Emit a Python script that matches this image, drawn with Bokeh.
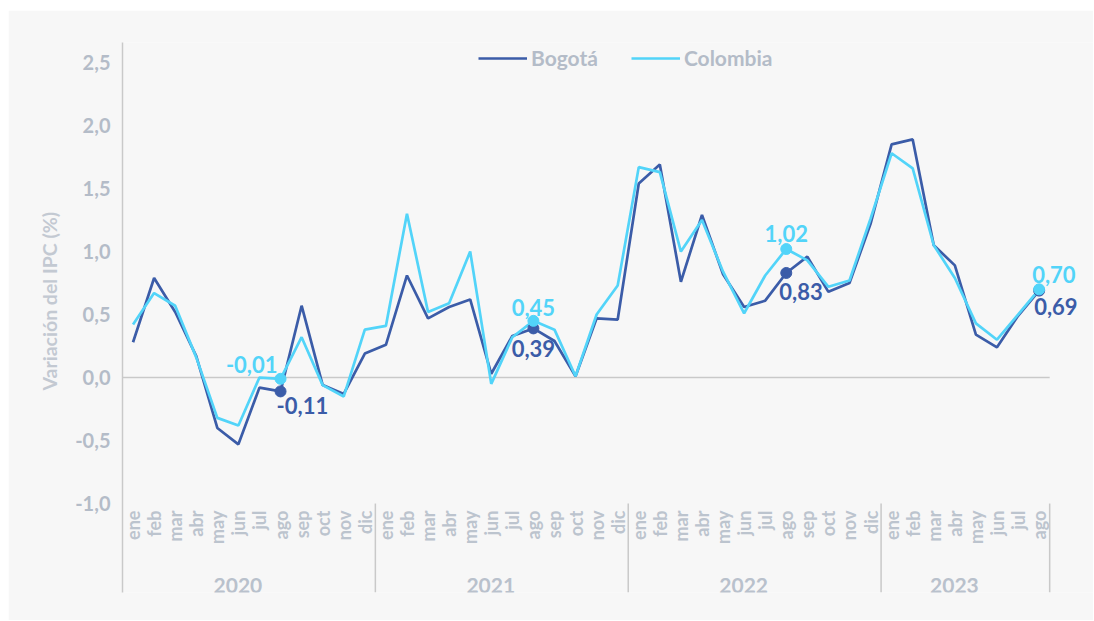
import numpy as np
from math import pi
from bokeh.plotting import figure
from bokeh.models import (ColumnDataSource, Range1d, FixedTicker, Legend,
                          LegendItem, Title)
from bokeh.core.properties import value
from bokeh.embed import file_html
from bokeh.resources import INLINE

# ---------------- data ----------------
years = ["2020", "2021", "2022", "2023"]
months_per_year = [12, 12, 12, 8]
month_names = ["ene", "feb", "mar", "abr", "may", "jun",
               "jul", "ago", "sep", "oct", "nov", "dic"]

bogota = [0.28, 0.79, 0.52, 0.17, -0.40, -0.53, -0.08, -0.11, 0.57, -0.06, -0.13, 0.19,
          0.26, 0.81, 0.47, 0.56, 0.62, 0.03, 0.33, 0.39, 0.29, 0.01, 0.47, 0.46,
          1.54, 1.69, 0.76, 1.29, 0.82, 0.56, 0.61, 0.83, 0.96, 0.68, 0.75, 1.22,
          1.85, 1.89, 1.05, 0.89, 0.34, 0.24, 0.49, 0.69]
colombia = [0.42, 0.67, 0.57, 0.16, -0.32, -0.38, 0.00, -0.01, 0.32, -0.06, -0.15, 0.38,
            0.41, 1.30, 0.52, 0.59, 1.00, -0.05, 0.32, 0.45, 0.38, 0.01, 0.50, 0.73,
            1.67, 1.63, 1.00, 1.25, 0.84, 0.51, 0.81, 1.02, 0.93, 0.72, 0.77, 1.26,
            1.78, 1.66, 1.05, 0.79, 0.43, 0.30, 0.50, 0.70]
y_ticks = [-1.0, -0.5, 0.0, 0.5, 1.0, 1.5, 2.0, 2.5]
highlight_idx = [7, 19, 31, 43]   # ago of each year

# ---------------- styles ----------------
FONT = "Lato"
C_BOG = "#3b5ca8"
C_COL = "#52d4f9"
C_TICK = "#b4bcc8"
C_TITLE = "#c3c9d2"
C_MONTH = "#bcc4ce"
C_YEAR = "#b9c1cc"
C_AXIS = "#c9c9c9"
BG = "#f7f7f7"

# ---------------- derived ----------------
n = len(bogota)
x = np.arange(n)
month_labels = []
for cnt in months_per_year:
    month_labels += month_names[:cnt]
starts = np.concatenate([[0], np.cumsum(months_per_year)[:-1]])
year_centers = [s + (c - 1) / 2 for s, c in zip(starts, months_per_year)]
separators = [s + c - 0.5 for s, c in zip(starts, months_per_year)]

Y_LO, Y_HI = -1.706, 2.659
p = figure(width=1085, height=610, output_backend="svg", toolbar_location=None,
           x_range=Range1d(-0.5, 45.58), y_range=Range1d(Y_LO, Y_HI),
           x_axis_location=None, min_border_left=114, min_border_right=0,
           min_border_top=32, min_border_bottom=28)
p.margin = (10, 0, 0, 8)
p.background_fill_color = BG
p.border_fill_color = BG
p.outline_line_color = None
p.xgrid.visible = False
p.ygrid.visible = False

ya = p.yaxis[0]
ya.ticker = FixedTicker(ticks=y_ticks)
ya.major_label_overrides = {t: f"{t:.1f}".replace(".", ",") for t in y_ticks}
ya.major_tick_line_color = None
ya.minor_tick_line_color = None
ya.major_tick_out = 0
ya.major_tick_in = 0
ya.axis_line_color = C_AXIS
ya.axis_line_width = 1.5
ya.major_label_standoff = 12
ya.major_label_text_font = FONT
ya.major_label_text_font_style = "bold"
ya.major_label_text_font_size = "20px"
ya.major_label_text_color = C_TICK

# y-axis title
p.add_layout(Title(text="Variación del IPC (%)", align="left", offset=202,
                   standoff=24, text_font=FONT, text_font_style="bold",
                   text_font_size="19.5px", text_color=C_TITLE), "left")

# zero line
p.segment(x0=[-0.5], x1=[separators[-1]], y0=[0], y1=[0],
          line_color=C_AXIS, line_width=1.5)

# category labels (months / years) and separators below the -1,0 level
p.text(x=x, y=[-1.056] * n, text=month_labels, angle=pi / 2,
       text_align="right", text_baseline="middle",
       text_font=value(FONT), text_font_style="bold",
       text_font_size="18px", text_color=C_MONTH)
p.text(x=year_centers, y=[-1.651] * len(years), text=years, x_offset=-11,
       text_align="center", text_baseline="middle",
       text_font=value(FONT), text_font_style="bold",
       text_font_size="21px", text_color=C_YEAR)
p.segment(x0=separators, x1=separators, y0=[-1.0] * len(separators),
          y1=[Y_LO] * len(separators), line_color=C_AXIS, line_width=1.5)

# series
r_bog = p.line(x, bogota, line_color=C_BOG, line_width=2.7)
r_col = p.line(x, colombia, line_color=C_COL, line_width=2.7)

# highlighted points
hb = [bogota[i] for i in highlight_idx]
hc = [colombia[i] for i in highlight_idx]
p.scatter(highlight_idx, hb, size=11, color=C_BOG)
p.scatter(highlight_idx, hc, size=11, color=C_COL)

fmt = lambda v: f"{v:.2f}".replace(".", ",")
src_c = ColumnDataSource(dict(
    x=highlight_idx, y=hc, t=[fmt(v) for v in hc],
    xo=[-3, 0, 0, -7], yo=[-14, -13, -16, -15],
    al=["right", "center", "center", "left"]))
src_b = ColumnDataSource(dict(
    x=highlight_idx, y=hb, t=[fmt(v) for v in hb],
    xo=[-4, 0, -7, -5], yo=[14, 20, 19, 16],
    al=["left", "center", "left", "left"]))
for src, col in ((src_c, C_COL), (src_b, C_BOG)):
    p.text(x="x", y="y", text="t", x_offset="xo", y_offset="yo", text_align="al",
           text_baseline="middle", source=src, text_font=value(FONT),
           text_font_style="bold", text_font_size="22px", text_color=col)

legend = Legend(items=[LegendItem(label="Bogotá", renderers=[r_bog]),
                       LegendItem(label="Colombia", renderers=[r_col])],
                orientation="horizontal", location=(356, 522),
                background_fill_alpha=0, border_line_color=None,
                padding=0, margin=0, spacing=33, glyph_width=49,
                glyph_height=20, label_height=20, label_standoff=4,
                label_text_font=FONT, label_text_font_style="bold",
                label_text_font_size="21px", label_text_color=C_TICK)
p.add_layout(legend)

open("out.html", "w").write(file_html(p, INLINE))
